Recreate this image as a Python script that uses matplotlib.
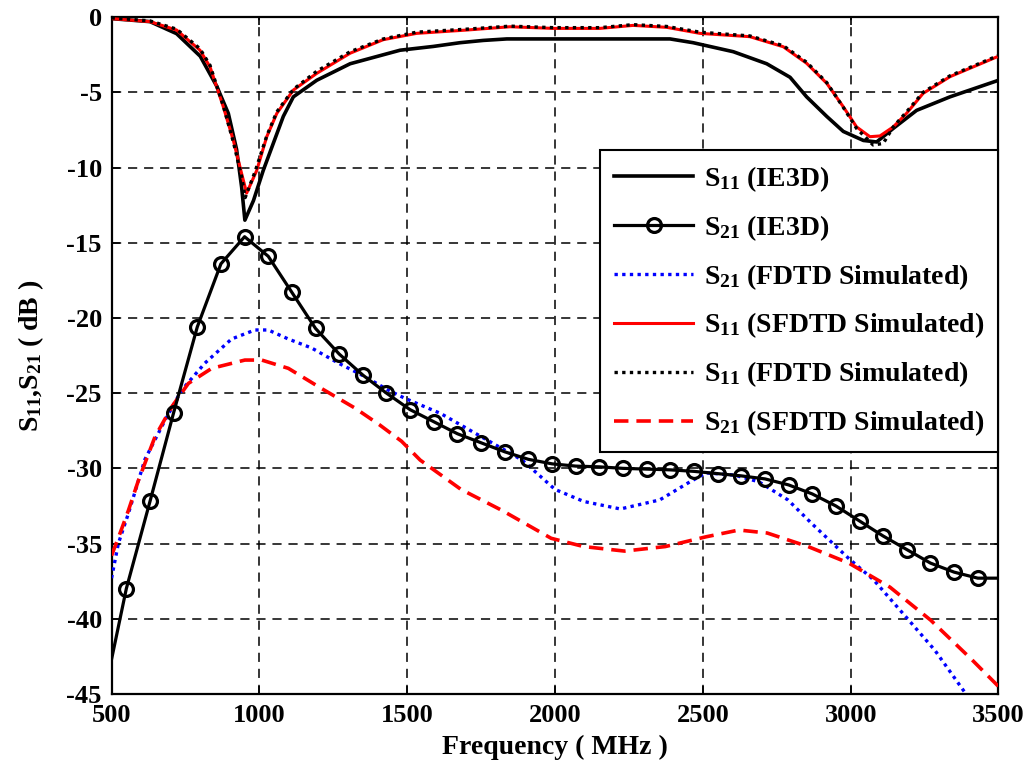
import matplotlib
matplotlib.use("Agg")
import matplotlib.pyplot as plt

plt.rcParams['font.family'] = ['Liberation Serif', 'DejaVu Serif']
plt.rcParams['font.weight'] = 'bold'
plt.rcParams['mathtext.fontset'] = 'custom'
plt.rcParams['mathtext.rm'] = 'Liberation Serif:bold'
plt.rcParams['mathtext.it'] = 'Liberation Serif:bold'
plt.rcParams['mathtext.bf'] = 'Liberation Serif:bold'
plt.rcParams['axes.unicode_minus'] = False

# ---- data (frequency in MHz, values in dB) ----
s11_ie3d_f = [500, 630, 720, 800, 856, 895, 923, 940, 951, 980, 1013, 1047, 1081, 1115,
              1194, 1307, 1476, 1588, 1679, 1757, 1837, 2150, 2389, 2467, 2603, 2716,
              2795, 2851, 2919, 2975, 3043, 3088, 3144, 3223, 3336, 3500]
s11_ie3d_v = [-0.1, -0.3, -1.1, -2.6, -4.6, -6.4, -8.8, -11.3, -13.5, -12.2, -10.2, -8.4,
              -6.6, -5.3, -4.2, -3.1, -2.2, -1.95, -1.7, -1.55, -1.45, -1.45, -1.45, -1.7,
              -2.3, -3.1, -4.0, -5.3, -6.6, -7.6, -8.2, -8.3, -7.4, -6.2, -5.3, -4.2]

s21_ie3d_f = [500, 550, 630, 710, 790, 870, 950, 1030, 1110, 1190, 1270, 1350, 1430, 1510,
              1590, 1670, 1750, 1830, 1910, 1990, 2070, 2150, 2230, 2310, 2390, 2470,
              2550, 2630, 2710, 2790, 2870, 2950, 3030, 3110, 3190, 3270, 3350, 3430, 3500]
s21_ie3d_v = [-42.7, -38.0, -32.2, -26.3, -20.6, -16.4, -14.6, -15.9, -18.3, -20.7, -22.4,
              -23.8, -25.0, -26.1, -26.9, -27.7, -28.3, -28.9, -29.4, -29.7, -29.85, -29.9,
              -30.0, -30.05, -30.1, -30.2, -30.35, -30.5, -30.7, -31.1, -31.7, -32.5, -33.5,
              -34.5, -35.4, -36.3, -36.9, -37.3, -37.3]

s21_fdtd_f = [500, 523, 557, 613, 681, 737, 816, 906, 985, 1030, 1098, 1177, 1267, 1357,
              1436, 1493, 1613, 1751, 1889, 2000, 2097, 2221, 2354, 2456, 2511, 2608,
              2690, 2788, 2870, 2994, 3077, 3188, 3285, 3390]
s21_fdtd_v = [-37.3, -35.0, -33.0, -29.4, -26.8, -24.8, -23.0, -21.4, -20.8, -20.8, -21.4,
              -22.0, -23.0, -23.9, -24.8, -25.35, -26.35, -27.9, -29.45, -31.4, -32.2,
              -32.7, -32.1, -30.9, -30.3, -30.45, -30.9, -32.1, -33.7, -36.0, -37.4,
              -39.9, -42.1, -45.0]

s11_sfdtd_f = [500, 630, 720, 799, 833, 878, 912, 940, 957, 991, 1025, 1059, 1115, 1194,
               1307, 1419, 1532, 1701, 1848, 1994, 2152, 2264, 2378, 2490, 2659, 2772,
               2851, 2919, 2975, 3020, 3065, 3099, 3144, 3189, 3245, 3336, 3500]
s11_sfdtd_v = [-0.1, -0.3, -0.86, -2.2, -3.3, -5.96, -8.2, -10.4, -11.7, -10.2, -7.95,
               -6.4, -4.85, -3.74, -2.4, -1.5, -1.08, -0.86, -0.64, -0.75, -0.75, -0.55,
               -0.68, -1.08, -1.3, -1.97, -3.07, -4.4, -5.96, -7.3, -7.95, -7.9, -7.3,
               -6.4, -5.07, -3.96, -2.6]

s11_fdtd_f = [500, 630, 720, 799, 833, 878, 912, 940, 952, 985, 1025, 1059, 1115, 1194,
              1307, 1419, 1532, 1701, 1848, 1994, 2152, 2264, 2378, 2490, 2659, 2772,
              2851, 2919, 2975, 3020, 3076, 3110, 3144, 3189, 3245, 3336, 3500]
s11_fdtd_v = [-0.05, -0.25, -0.8, -2.1, -3.2, -5.9, -8.3, -10.6, -12.0, -10.3, -7.9, -6.3,
              -4.8, -3.6, -2.3, -1.45, -1.0, -0.8, -0.6, -0.7, -0.7, -0.5, -0.62, -1.0,
              -1.25, -1.9, -3.0, -4.35, -6.0, -7.4, -8.5, -8.4, -7.3, -6.3, -5.0, -3.9,
              -2.55]

s21_sfdtd_f = [500, 529, 557, 591, 647, 704, 760, 839, 951, 1008, 1098, 1211, 1324, 1406,
               1481, 1544, 1682, 1821, 1987, 2097, 2235, 2373, 2511, 2622, 2718, 2856,
               2994, 3133, 3271, 3409, 3500]
s21_sfdtd_v = [-35.8, -34.3, -32.8, -30.8, -27.9, -25.9, -24.35, -23.35, -22.8, -22.8,
               -23.35, -24.7, -26.0, -27.1, -28.2, -29.45, -31.4, -32.8, -34.65, -35.2,
               -35.5, -35.2, -34.55, -34.1, -34.3, -35.2, -36.3, -37.9, -40.1, -42.7,
               -44.5]

labels = [r'$\mathrm{S}_{11}$ (IE3D)', r'$\mathrm{S}_{21}$ (IE3D)',
          r'$\mathrm{S}_{21}$ (FDTD Simulated)', r'$\mathrm{S}_{11}$ (SFDTD Simulated)',
          r'$\mathrm{S}_{11}$ (FDTD Simulated)', r'$\mathrm{S}_{21}$ (SFDTD Simulated)']
xticks = [500, 1000, 1500, 2000, 2500, 3000, 3500]
yticks = [0, -5, -10, -15, -20, -25, -30, -35, -40, -45]

fig = plt.figure(figsize=(10.28, 7.71), dpi=100)
ax = fig.add_axes([0.1085, 0.0999, 0.8628, 0.8779])

dot = (0, (1, 1.3))
h1, = ax.plot(s11_ie3d_f, s11_ie3d_v, color='black', lw=2.6, label=labels[0], zorder=3)
h2, = ax.plot(s21_ie3d_f, s21_ie3d_v, color='black', lw=2.3, marker='o', markersize=10,
              markerfacecolor='none', markeredgewidth=2.3, markevery=list(range(1, 38)),
              label=labels[1], zorder=4)
h3, = ax.plot(s21_fdtd_f, s21_fdtd_v, color='blue', lw=2.4, linestyle=dot,
              label=labels[2], zorder=3)
h4, = ax.plot(s11_sfdtd_f, s11_sfdtd_v, color='red', lw=2.2, label=labels[3], zorder=3)
h5, = ax.plot(s11_fdtd_f, s11_fdtd_v, color='black', lw=2.4, linestyle=dot,
              label=labels[4], zorder=3)
h6, = ax.plot(s21_sfdtd_f, s21_sfdtd_v, color='red', lw=2.6, linestyle=(0, (4, 2.2)),
              label=labels[5], zorder=3)

ax.set_xlim(500, 3500)
ax.set_ylim(-45, 0)
ax.set_xticks(xticks)
ax.set_yticks(yticks)
ax.grid(True, color='black', linestyle=(0, (6, 4.5)), linewidth=1.1)
ax.tick_params(direction='in', length=6, width=1.2, labelsize=19, top=True, right=True, pad=7)
for lab in ax.get_xticklabels() + ax.get_yticklabels():
    lab.set_fontweight('bold')
for sp in ax.spines.values():
    sp.set_linewidth(1.6)
    sp.set_color('black')

ax.set_xlabel('Frequency ( MHz )', fontsize=20, fontweight='bold', labelpad=6)
ax.set_ylabel(r'$\mathrm{S}_{11}$,$\mathrm{S}_{21}$ ( dB )', fontsize=20, fontweight='bold',
              labelpad=15)

leg = ax.legend(handles=[h1, h2, h3, h4, h5, h6], loc='upper right',
                bbox_to_anchor=(1.0, 0.8036), borderaxespad=0,
                frameon=True, fancybox=False, edgecolor='black', framealpha=1,
                handlelength=2.85, handletextpad=0.4, labelspacing=0.69, borderpad=0.5,
                prop={'weight': 'bold', 'size': 20, 'family': ['Liberation Serif']})
leg.get_frame().set_linewidth(1.5)
leg.set_zorder(10)

fig.savefig('out.png', dpi=100)
